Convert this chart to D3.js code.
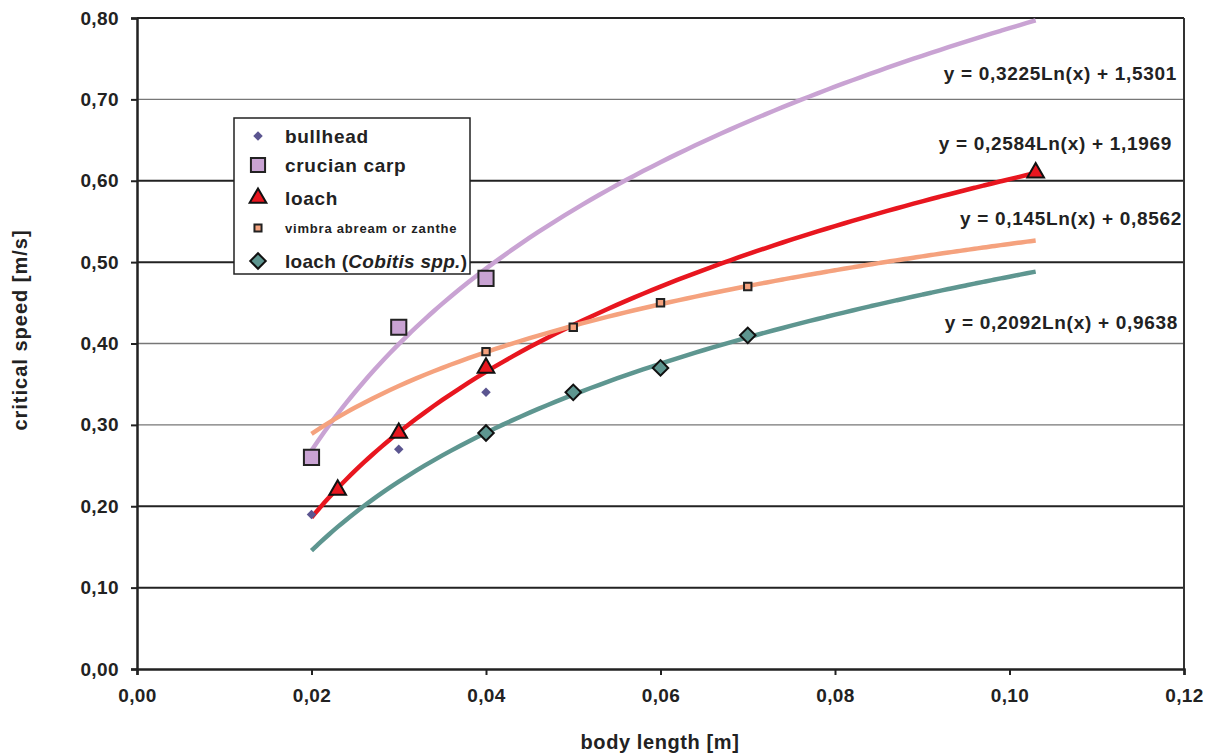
<!DOCTYPE html>
<html>
<head>
<meta charset="utf-8">
<script src="https://cdn.jsdelivr.net/npm/d3@7.9.0/dist/d3.min.js"></script>
<style>
  body { margin: 0; background: #fff; }
  svg text { font-family: "Liberation Sans", Arial, sans-serif; font-weight: bold; fill: #222; }
</style>
</head>
<body>
<svg id="chart" width="1216" height="756"></svg>
<script>
// observed points
const bullheadX = [0.02, 0.03, 0.04];
const bullheadY = [0.19, 0.27, 0.34];
const crucianX = [0.02, 0.03, 0.04];
const crucianY = [0.26, 0.42, 0.48];
const loachX = [0.023, 0.03, 0.04, 0.103];
const loachY = [0.22, 0.29, 0.37, 0.61];
const vimbraX = [0.04, 0.05, 0.06, 0.07];
const vimbraY = [0.39, 0.42, 0.45, 0.47];
const cobitisX = [0.04, 0.05, 0.06, 0.07];
const cobitisY = [0.29, 0.34, 0.37, 0.41];

// log trendlines y = a ln(x) + b, as printed on the chart
const trendNames = ['crucian', 'loach', 'vimbra', 'cobitis'];
const trendA = [0.3225, 0.2584, 0.145, 0.2092];
const trendB = [1.5301, 1.1969, 0.8562, 0.9638];
const trendLabels = ['y = 0,3225Ln(x) + 1,5301', 'y = 0,2584Ln(x) + 1,1969',
  'y = 0,145Ln(x) + 0,8562', 'y = 0,2092Ln(x) + 0,9638'];
const trendRange = [0.02, 0.103];

const xTicks = [0, 0.02, 0.04, 0.06, 0.08, 0.10, 0.12];
const yTicks = [0, 0.1, 0.2, 0.3, 0.4, 0.5, 0.6, 0.7, 0.8];
const darkGrid = [0.1, 0.2, 0.5, 0.6, 0.8];

const colors = {
  bullhead: '#5b5590', crucian: '#c9a3d3', loach: '#e8161f',
  vimbra: '#f5a27e', cobitis: '#5e9690'
};

const svg = d3.select('#chart');
const m = { left: 137, right: 1184, top: 18, bottom: 669 };
const x = d3.scaleLinear().domain([0, 0.12]).range([m.left, m.right]);
const y = d3.scaleLinear().domain([0, 0.8]).range([m.bottom, m.top]);
const fmt = d => d3.format('.2f')(d).replace('.', ',');

// grid
svg.append('g').selectAll('line')
  .data(yTicks.filter(d => d > 0))
  .enter().append('line')
  .attr('x1', m.left).attr('x2', m.right)
  .attr('y1', d => y(d)).attr('y2', d => y(d))
  .attr('stroke', d => darkGrid.includes(d) ? '#222' : '#777')
  .attr('stroke-width', d => darkGrid.includes(d) ? 2 : 1.3);

// right border
svg.append('line').attr('x1', m.right).attr('x2', m.right)
  .attr('y1', m.top).attr('y2', m.bottom).attr('stroke', '#333').attr('stroke-width', 2);

// axes
const yAxis = svg.append('g').attr('transform', `translate(${m.left},0)`)
  .call(d3.axisLeft(y).tickValues(yTicks).tickFormat(fmt).tickSize(6).tickPadding(12));
const xAxis = svg.append('g').attr('transform', `translate(0,${m.bottom})`)
  .call(d3.axisBottom(x).tickValues(xTicks).tickFormat(fmt).tickSize(6).tickPadding(14));
[yAxis, xAxis].forEach(g => {
  g.select('.domain').attr('stroke', '#222').attr('stroke-width', 2.5);
  g.selectAll('.tick line').attr('stroke', '#222').attr('stroke-width', 2);
  g.selectAll('.tick text').style('font-size', '19px').attr('fill', '#222')
    .style('letter-spacing', '0.4px')
    .style('font-family', '"Liberation Sans", Arial, sans-serif').style('font-weight', 'bold');
});

// axis titles
svg.append('text').attr('x', 660).attr('y', 749).attr('text-anchor', 'middle')
  .style('font-size', '20px').style('letter-spacing', '0.6px').text('body length [m]');
svg.append('text').attr('transform', 'translate(27,330) rotate(-90)')
  .attr('text-anchor', 'middle').style('font-size', '20px').style('letter-spacing', '1px')
  .text('critical speed [m/s]');

// trendlines
const line = d3.line().x(d => x(d[0])).y(d => y(d[1])).curve(d3.curveMonotoneX);
trendNames.forEach((name, i) => {
  const pts = d3.range(trendRange[0], trendRange[1] + 1e-9, 0.001)
    .map(v => [v, trendA[i] * Math.log(v) + trendB[i]]);
  svg.append('path').datum(pts).attr('d', line)
    .attr('fill', 'none').attr('stroke', colors[name]).attr('stroke-width', 4.5);
});

// markers
const sym = (type, size) => d3.symbol().type(type).size(size)();
function drawPoints(xs, ys, type, size, fill, stroke, rot) {
  svg.append('g').selectAll('path').data(xs).enter().append('path')
    .attr('transform', (d, i) => `translate(${x(d)},${y(ys[i])}) rotate(${rot || 0})`)
    .attr('d', sym(type, size))
    .attr('fill', fill).attr('stroke', stroke || 'none').attr('stroke-width', 2);
}
drawPoints(crucianX, crucianY, d3.symbolSquare, 230, colors.crucian, '#222');
drawPoints(loachX, loachY, d3.symbolTriangle, 120, colors.loach, '#111');
drawPoints(vimbraX, vimbraY, d3.symbolSquare, 55, colors.vimbra, '#222');
drawPoints(cobitisX, cobitisY, d3.symbolSquare, 120, colors.cobitis, '#111', 45);
drawPoints(bullheadX, bullheadY, d3.symbolSquare, 45, colors.bullhead, null, 45);

// equation labels
const eqPos = [[1177, 80], [1172, 150], [1182, 225], [1178, 329]];
trendLabels.forEach((t, i) => {
  svg.append('text').attr('x', eqPos[i][0]).attr('y', eqPos[i][1])
    .attr('text-anchor', 'end').style('font-size', '19px').style('letter-spacing', '0.7px').text(t);
});

// legend
const legend = svg.append('g');
legend.append('rect').attr('x', 234).attr('y', 118).attr('width', 236).attr('height', 156)
  .attr('fill', '#fff').attr('stroke', '#222').attr('stroke-width', 1.5);
const legendItems = [
  { label: 'bullhead', type: d3.symbolSquare, size: 45, rot: 45, fill: colors.bullhead, stroke: 'none', fs: 19 },
  { label: 'crucian carp', type: d3.symbolSquare, size: 200, rot: 0, fill: colors.crucian, stroke: '#222', fs: 19 },
  { label: 'loach', type: d3.symbolTriangle, size: 120, rot: 0, fill: colors.loach, stroke: '#111', fs: 19 },
  { label: 'vimbra abream or zanthe', type: d3.symbolSquare, size: 50, rot: 0, fill: colors.vimbra, stroke: '#222', fs: 13 },
  { label: 'loach (Cobitis spp.)', type: d3.symbolSquare, size: 120, rot: 45, fill: colors.cobitis, stroke: '#111', fs: 19 }
];
const rowY = [136, 165, 198, 228, 261];
const rowSpacing = ['0.7px', '0.7px', '0.7px', '0.8px', '0.3px'];
legendItems.forEach((d, i) => {
  legend.append('path').attr('transform', `translate(258,${rowY[i]}) rotate(${d.rot})`)
    .attr('d', sym(d.type, d.size)).attr('fill', d.fill)
    .attr('stroke', d.stroke).attr('stroke-width', 2);
  const t = legend.append('text').attr('x', 285).attr('y', rowY[i] + d.fs * 0.36)
    .style('font-size', d.fs + 'px').style('letter-spacing', rowSpacing[i]);
  if (i === 4) {
    t.append('tspan').text('loach (');
    t.append('tspan').style('font-style', 'italic').text('Cobitis spp.');
    t.append('tspan').text(')');
  } else {
    t.text(d.label);
  }
});
</script>
</body>
</html>
